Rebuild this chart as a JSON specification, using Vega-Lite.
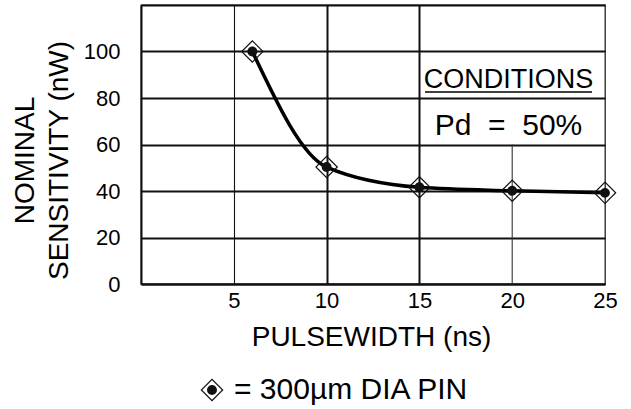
{
  "$schema": "https://vega.github.io/schema/vega-lite/v6.json",
  "width": 464,
  "height": 279,
  "autosize": {"type": "none"},
  "padding": {"left": 141, "top": 5, "right": 26, "bottom": 125},
  "background": "white",
  "config": {
    "view": {"stroke": "#222", "strokeWidth": 1.3},
    "font": "Liberation Sans",
    "text": {"font": "Liberation Sans", "color": "black", "fontWeight": "normal"}
  },
  "data": {
    "values": [
      {"pulsewidth": 6, "sensitivity": 100},
      {"pulsewidth": 10, "sensitivity": 50.3},
      {"pulsewidth": 15, "sensitivity": 41.6},
      {"pulsewidth": 20, "sensitivity": 40.1},
      {"pulsewidth": 25, "sensitivity": 39.2}
    ]
  },
  "layer": [
    {
      "data": {"values": [{}]},
      "mark": {"type": "rule", "color": "#333", "strokeWidth": 1.1},
      "encoding": {
        "x": {"datum": 20, "type": "quantitative"},
        "y": {"datum": 0, "type": "quantitative"},
        "y2": {"datum": 60}
      }
    },
    {
      "mark": {"type": "line", "color": "black", "strokeWidth": 3.5, "interpolate": "monotone"},
      "encoding": {
        "x": {
          "field": "pulsewidth",
          "type": "quantitative",
          "scale": {"domain": [0, 25], "nice": false, "zero": false},
          "axis": {
            "values": [5, 10, 15, 20, 25],
            "grid": true,
            "gridColor": "#111",
            "gridWidth": {"condition": {"test": "datum.value == 10 || datum.value == 15", "value": 2}, "value": 1.1},
            "gridOpacity": {"condition": {"test": "datum.value >= 20", "value": 0}, "value": 1},
            "domainColor": "#111",
            "domainWidth": 2,
            "ticks": false,
            "tickSize": 0,
            "labelPadding": 6,
            "labelFlush": false,
            "labelFontSize": 22,
            "labelFont": "Liberation Sans",
            "labelColor": "black",
            "title": "PULSEWIDTH (ns)",
            "titleFont": "Liberation Sans",
            "titleFontSize": 28,
            "titleFontWeight": "normal",
            "titleColor": "black",
            "titleBaseline": "alphabetic",
            "titleY": 61,
            "titleX": 230
          }
        },
        "y": {
          "field": "sensitivity",
          "type": "quantitative",
          "scale": {"domain": [0, 120], "nice": false},
          "axis": {
            "values": [0, 20, 40, 60, 80, 100, 120],
            "labelExpr": "datum.value >= 120 ? '' : datum.label",
            "grid": true,
            "gridColor": "#111",
            "gridWidth": 2,
            "domainColor": "#111",
            "domainWidth": 2,
            "ticks": false,
            "tickSize": 0,
            "labelPadding": 21,
            "labelFontSize": 22,
            "labelFont": "Liberation Sans",
            "labelColor": "black",
            "title": ["NOMINAL", "SENSITIVITY (nW)"],
            "titleFont": "Liberation Sans",
            "titleFontSize": 28,
            "titleFontWeight": "normal",
            "titleColor": "black",
            "titleAngle": -90,
            "titleAlign": "center",
            "titleBaseline": "alphabetic",
            "titleLineHeight": 34,
            "titleX": -108,
            "titleY": 155
          }
        }
      }
    },
    {
      "mark": {"type": "point", "filled": true, "color": "#111", "opacity": 1, "size": 529, "strokeWidth": 0},
      "encoding": {
        "x": {"field": "pulsewidth", "type": "quantitative"},
        "y": {"field": "sensitivity", "type": "quantitative"},
        "shape": {
          "datum": "= 300µm DIA PIN",
          "type": "nominal",
          "scale": {"range": ["M0,-1L1,0L0,1L-1,0ZM0,-0.85L-0.85,0L0,0.85L0.85,0ZM0.43,0A0.43,0.43,0,1,1,-0.43,0A0.43,0.43,0,1,1,0.43,0Z"]},
          "legend": {
            "title": null,
            "orient": "none",
            "legendX": 56,
            "legendY": 370,
            "padding": 0,
            "symbolSize": 529,
            "symbolFillColor": "#111",
            "symbolStrokeWidth": 0,
            "symbolOpacity": 1,
            "labelFont": "Liberation Sans",
            "labelFontSize": 30,
            "labelColor": "black",
            "labelOffset": 7,
            "labelLimit": 0
          }
        }
      }
    },
    {
      "data": {"values": [{}]},
      "mark": {"type": "text", "fontSize": 27, "fontWeight": "normal", "align": "center", "baseline": "alphabetic", "color": "black"},
      "encoding": {
        "x": {"datum": 19.8, "type": "quantitative"},
        "y": {"datum": 84.3, "type": "quantitative"},
        "text": {"value": "CONDITIONS"}
      }
    },
    {
      "data": {"values": [{}]},
      "mark": {"type": "rule", "color": "black", "strokeWidth": 1.6},
      "encoding": {
        "x": {"datum": 15.3, "type": "quantitative"},
        "x2": {"datum": 24.3},
        "y": {"datum": 82.6, "type": "quantitative"}
      }
    },
    {
      "data": {"values": [{}]},
      "mark": {"type": "text", "fontSize": 30, "fontWeight": "normal", "align": "center", "baseline": "alphabetic", "color": "black"},
      "encoding": {
        "x": {"datum": 19.8, "type": "quantitative"},
        "y": {"datum": 64.1, "type": "quantitative"},
        "text": {"value": "Pd\u00a0\u00a0=\u00a0\u00a050%"}
      }
    }
  ]
}
